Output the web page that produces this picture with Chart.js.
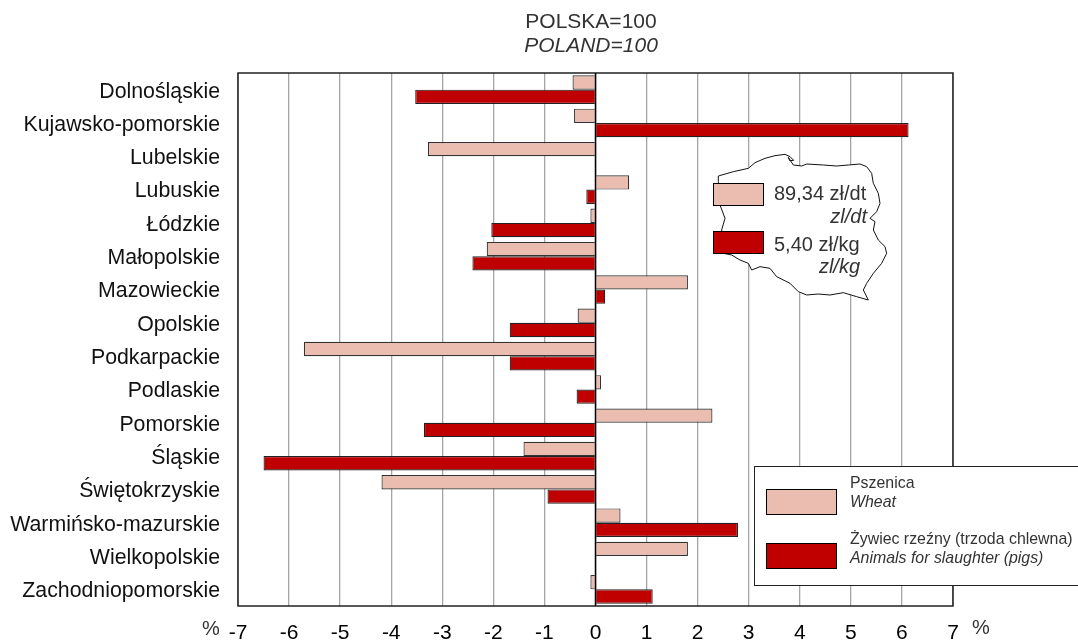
<!DOCTYPE html>
<html><head><meta charset="utf-8">
<script src="https://cdn.jsdelivr.net/npm/chart.js@4"></script>
<style>html,body{margin:0;padding:0;background:#fff}canvas{display:block}</style>
</head><body><canvas id="c" width="1078" height="640"></canvas>
<script>
const categories = ["Dolnośląskie","Kujawsko-pomorskie","Lubelskie","Lubuskie","Łódzkie","Małopolskie","Mazowieckie","Opolskie","Podkarpackie","Podlaskie","Pomorskie","Śląskie","Świętokrzyskie","Warmińsko-mazurskie","Wielkopolskie","Zachodniopomorskie"];
const wheat = [-0.45,-0.42,-3.28,0.66,-0.1,-2.13,1.81,-0.35,-5.71,0.11,2.29,-1.41,-4.19,0.49,1.81,-0.1];
const pigs = [-3.53,6.13,null,-0.18,-2.04,-2.41,0.19,-1.68,-1.68,-0.37,-3.36,-6.5,-0.94,2.79,null,1.12];
const seriesNames = ["Pszenica","Żywiec rzeźny (trzoda chlewna)"];
const seriesNamesEn = ["Wheat","Animals for slaughter (pigs)"];
const titleLines = ["POLSKA=100","POLAND=100"];
const priceLabels = ["89,34 zł/dt","zl/dt","5,40 zł/kg","zl/kg"];
const WHEAT_COLOR="#EABDB0", PIG_COLOR="#C00000", FONT='"Liberation Sans", Arial, sans-serif';
const mapOutline=[[85,125],[85,108],[130,95],[175,85],[195,68],[225,55],[255,47],[285,43],[300,50],[311,61],[299,62],[295,52],[310,75],[335,78],[350,72],[400,75],[440,78],[475,75],[510,72],[530,80],[545,100],[550,130],[565,160],[570,190],[560,215],[540,235],[555,245],[550,270],[565,300],[585,320],[590,340],[575,370],[550,400],[530,430],[520,450],[535,480],[500,470],[460,458],[420,465],[385,462],[350,465],[325,455],[300,430],[260,410],[240,385],[210,380],[185,390],[175,370],[150,360],[125,345],[100,340],[95,270],[105,235],[90,195]];
function txt(ctx,s,x,y,size,italic,align,color){ctx.font=(italic?'italic ':'')+size+'px '+FONT;ctx.textAlign=align||'left';ctx.textBaseline='alphabetic';ctx.fillStyle=color||'#333';ctx.fillText(s,x,y);}
function swatch(ctx,x,y,w,h,c){ctx.fillStyle=c;ctx.fillRect(x,y,w,h);ctx.strokeStyle='#000';ctx.lineWidth=1;ctx.strokeRect(x+.5,y+.5,w-1,h-1);}
const extras={id:'extras',afterDatasetsDraw(chart){const ctx=chart.ctx,a=chart.chartArea;ctx.save();
 ctx.strokeStyle='#222';ctx.lineWidth=1.5;ctx.strokeRect(a.left,a.top,a.right-a.left,a.bottom-a.top);
 const z=chart.scales.x.getPixelForValue(0);ctx.strokeStyle='#000';ctx.lineWidth=1.5;ctx.beginPath();ctx.moveTo(z,a.top);ctx.lineTo(z,a.bottom);ctx.stroke();
 // map
 ctx.beginPath();mapOutline.forEach((p,i)=>{const x=690+p[0]/3,y=140+p[1]/3;i?ctx.lineTo(x,y):ctx.moveTo(x,y);});ctx.closePath();ctx.fillStyle='#fff';ctx.fill();ctx.strokeStyle='#111';ctx.lineWidth=1;ctx.stroke();
 swatch(ctx,713,183,51,23,WHEAT_COLOR);swatch(ctx,713,231,51,23,PIG_COLOR);
 txt(ctx,priceLabels[0],774,200,20,false);txt(ctx,priceLabels[1],867,223,20,true,'right');
 txt(ctx,priceLabels[2],774,250.5,20,false);txt(ctx,priceLabels[3],860,273,20,true,'right');
 // legend
 ctx.fillStyle='#fff';ctx.fillRect(754,466,330,119);ctx.strokeStyle='#222';ctx.lineWidth=1;ctx.strokeRect(754.5,466.5,330,119);
 swatch(ctx,766,489,71,26,WHEAT_COLOR);swatch(ctx,766,543,71,26,PIG_COLOR);
 txt(ctx,seriesNames[0],850,487.5,15.9,false);txt(ctx,seriesNamesEn[0],850,507,15.9,true);
 txt(ctx,seriesNames[1],850,544,15.9,false);txt(ctx,seriesNamesEn[1],850,563,15.9,true);
 // title and units
 txt(ctx,titleLines[0],591,28,21,false,'center');txt(ctx,titleLines[1],591,52,21,true,'center');
 txt(ctx,'%',211,635,20,false,'center');txt(ctx,'%',981,634,20,false,'center');
 ctx.restore();}};
new Chart(document.getElementById('c'),{type:'bar',plugins:[extras],
 data:{labels:categories,datasets:[
  {label:seriesNames[0],data:wheat,backgroundColor:WHEAT_COLOR,borderColor:'#333',borderWidth:1.2,categoryPercentage:.86,barPercentage:1},
  {label:seriesNames[1],data:pigs,backgroundColor:PIG_COLOR,borderColor:'#222',borderWidth:1.2,categoryPercentage:.86,barPercentage:1}]},
 options:{indexAxis:'y',responsive:false,animation:false,
  layout:{padding:{top:73,right:125,left:0,bottom:0}},
  plugins:{legend:{display:false},tooltip:{enabled:false}},
  scales:{
   x:{min:-7,max:7,afterFit(s){s.height=34;},
    ticks:{stepSize:1,autoSkip:false,maxRotation:0,color:'#000',font:{family:FONT,size:21},padding:15},
    grid:{drawTicks:false,color:'#a6a6a6',lineWidth:1.3},border:{display:false}},
   y:{afterFit(s){s.width=238;},
    ticks:{color:'#111',font:{family:FONT,size:21.3},padding:18,autoSkip:false,labelOffset:2},
    grid:{display:false,drawTicks:false},border:{display:false}}
  }}});
</script></body></html>
